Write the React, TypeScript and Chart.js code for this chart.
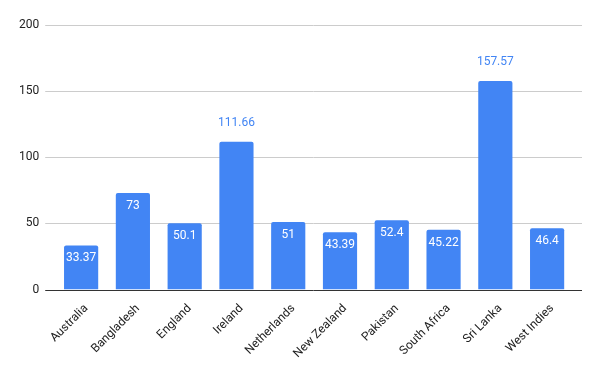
import React, { useEffect, useRef } from "react";
import { Chart, registerables } from "chart.js";

Chart.register(...registerables);

const categories = ["Australia", "Bangladesh", "England", "Ireland", "Netherlands", "New Zealand", "Pakistan", "South Africa", "Sri Lanka", "West Indies"];
const values = [33.37, 73, 50.1, 111.66, 51, 43.39, 52.4, 45.22, 157.57, 46.4];
const yTicks = [0, 50, 100, 150, 200];

const BLUE = "#4285f4";
const FONT = "Roboto, 'Noto Sans', sans-serif";

const gridPlugin = {
  id: "extGrid",
  beforeDatasetsDraw(chart: any) {
    const { ctx, chartArea, scales } = chart;
    const y = scales.y;
    ctx.save();
    ctx.strokeStyle = "#cccccc";
    ctx.lineWidth = 1;
    for (const t of yTicks) {
      if (t === 0) continue;
      const py = Math.round(y.getPixelForValue(t)) + 0.5;
      ctx.beginPath();
      ctx.moveTo(chartArea.left - 10, py);
      ctx.lineTo(chartArea.right + 9, py);
      ctx.stroke();
    }
    ctx.restore();
  },
  afterDatasetsDraw(chart: any) {
    const { ctx, chartArea, scales } = chart;
    const y = scales.y;
    ctx.save();
    ctx.strokeStyle = "#333333";
    ctx.lineWidth = 1;
    const py = Math.round(y.getPixelForValue(0)) + 0.5;
    ctx.beginPath();
    ctx.moveTo(chartArea.left - 10, py);
    ctx.lineTo(chartArea.right + 9, py);
    ctx.stroke();

    const meta = chart.getDatasetMeta(0);
    ctx.font = `12px ${FONT}`;
    ctx.textAlign = "center";
    ctx.textBaseline = "middle";
    meta.data.forEach((bar: any, i: number) => {
      const v = values[i];
      const outside = v > 100;
      if (outside) {
        ctx.fillStyle = BLUE;
        ctx.fillText(String(v), bar.x, bar.y - 19);
      } else {
        ctx.fillStyle = "#ffffff";
        ctx.fillText(String(v), bar.x, bar.y + 13);
      }
    });
    ctx.restore();
  },
};

export default function App() {
  const ref = useRef<HTMLCanvasElement | null>(null);
  useEffect(() => {
    if (!ref.current) return;
    const chart = new Chart(ref.current, {
      type: "bar",
      data: {
        labels: categories,
        datasets: [
          {
            data: values,
            backgroundColor: BLUE,
            borderRadius: 2,
            borderSkipped: "bottom",
            barPercentage: 0.66,
            categoryPercentage: 1,
          },
        ],
      },
      options: {
        responsive: false,
        animation: false,
        layout: { padding: { left: 3, right: 27, top: 25, bottom: 6 } },
        plugins: { legend: { display: false }, tooltip: { enabled: false } },
        scales: {
          x: {
            grid: { display: false },
            border: { display: false },
            afterFit: (axis: any) => {
              axis.paddingLeft = 0;
              axis.paddingRight = 0;
            },
            ticks: {
              color: "#222222",
              font: { family: FONT, size: 12 },
              maxRotation: 45,
              minRotation: 45,
              autoSkip: false,
              padding: 4,
              labelOffset: 5,
            },
          },
          y: {
            min: 0,
            max: 200,
            grid: { display: false, drawTicks: false },
            border: { display: false },
            afterBuildTicks: (axis: any) => {
              axis.ticks = yTicks.map((v) => ({ value: v }));
            },
            ticks: {
              color: "#222222",
              font: { family: FONT, size: 12 },
              padding: 16,
            },
          },
        },
      },
      plugins: [gridPlugin],
    });
    return () => chart.destroy();
  }, []);
  return (
    <div style={{ position: "fixed", left: 0, top: 0, width: 600, height: 371, background: "#fff" }}>
      <canvas ref={ref} width={600} height={371} />
    </div>
  );
}
